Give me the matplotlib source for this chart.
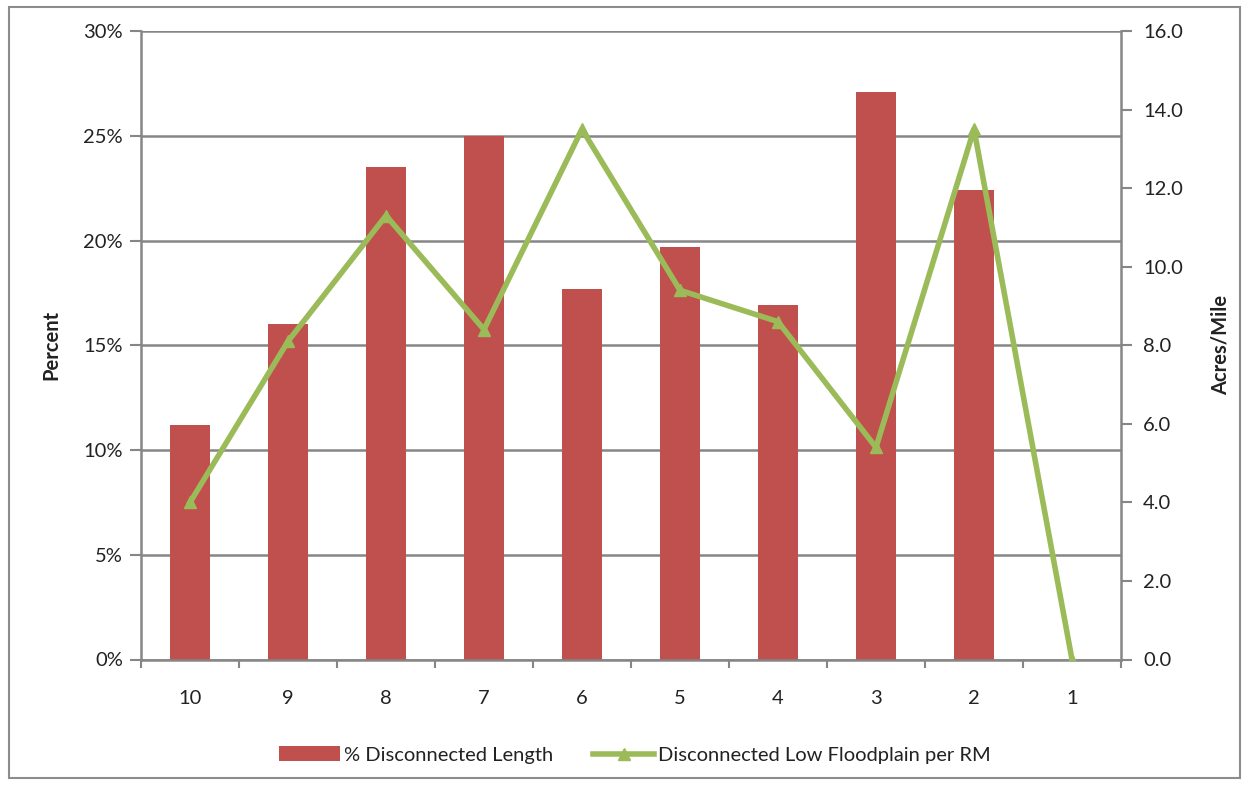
import matplotlib
matplotlib.use("Agg")
import matplotlib.pyplot as plt
from matplotlib.ticker import FuncFormatter, MultipleLocator
from matplotlib.lines import Line2D
from matplotlib.patches import Patch, Rectangle

plt.rcParams['font.family'] = ['Lato', 'DejaVu Sans']

# River mile segments, upstream to downstream
segments = ["10", "9", "8", "7", "6", "5", "4", "3", "2", "1"]
pct_disconnected = [11.2, 16.0, 23.5, 25.0, 17.7, 19.7, 16.9, 27.1, 22.4, 0.0]
acres_per_mile = [4.0, 8.1, 11.3, 8.4, 13.5, 9.4, 8.6, 5.4, 13.5, 0.0]

bar_color = "#C0504D"
line_color = "#9BBB59"
grid_color = "#868686"
text_color = "#222222"
fs = 14.5

fig = plt.figure(figsize=(12.5, 7.85), dpi=100)

# outer chart frame
fig.patches.append(Rectangle((9 / 1250, 7 / 785), 1231 / 1250, 771 / 785,
                             transform=fig.transFigure, fill=False,
                             edgecolor="#8c8c8c", linewidth=1.5))

ax = fig.add_axes([141 / 1250, 1 - 659.5 / 785, 980 / 1250, 628.5 / 785])
x = list(range(len(segments)))

ax.bar(x, pct_disconnected, width=0.4, color=bar_color, zorder=2,
       label="% Disconnected Length")
ax.set_xlim(-0.5, len(segments) - 0.5)
ax.set_ylim(0, 30)
ax.yaxis.set_major_locator(MultipleLocator(5))
ax.yaxis.set_major_formatter(FuncFormatter(lambda v, p: f"{v:.0f}%"))
ax.grid(axis="y", color=grid_color, linewidth=1.8, zorder=0)
ax.set_axisbelow(True)

ax.set_xticks(x)
ax.set_xticklabels(segments)
ax.set_xticks([i + 0.5 for i in range(-1, len(segments))], minor=True)
ax.tick_params(axis="x", which="major", length=0, pad=22, labelsize=fs,
               colors=text_color)
ax.tick_params(axis="x", which="minor", length=6, width=1.5, color=grid_color)
ax.tick_params(axis="y", length=8, width=1.5, color=grid_color, labelsize=fs,
               labelcolor=text_color, pad=5)

for s in ("top", "right"):
    ax.spines[s].set_visible(False)
for s in ("left", "bottom"):
    ax.spines[s].set_color(grid_color)
    ax.spines[s].set_linewidth(1.8)

ax.set_ylabel("Percent", fontsize=fs, fontweight="bold", color=text_color,
              labelpad=16)

ax2 = ax.twinx()
ax2.plot(x, acres_per_mile, color=line_color, linewidth=4, marker="^",
         markersize=9, zorder=3, label="Disconnected Low Floodplain per RM")
ax2.set_ylim(0, 16)
ax2.yaxis.set_major_locator(MultipleLocator(2))
ax2.yaxis.set_major_formatter(FuncFormatter(lambda v, p: f"{v:.1f}"))
ax2.tick_params(axis="y", length=8, width=1.5, color=grid_color, labelsize=fs,
                labelcolor=text_color, pad=8)
for s in ("top", "left", "bottom"):
    ax2.spines[s].set_visible(False)
ax2.spines["right"].set_color(grid_color)
ax2.spines["right"].set_linewidth(1.8)
ax2.set_ylabel("Acres/Mile", fontsize=fs, fontweight="bold", color=text_color,
               labelpad=20)

handles = [Patch(facecolor=bar_color, edgecolor="none"),
           Line2D([0], [0], color=line_color, linewidth=4, marker="^",
                  markersize=9)]
labels = ["% Disconnected Length", "Disconnected Low Floodplain per RM"]
fig.legend(handles, labels, loc="center", bbox_to_anchor=(635 / 1250, 1 - 755 / 785),
           ncol=2, frameon=False, fontsize=fs, handlelength=3.0,
           handletextpad=0.2, columnspacing=2.0, labelcolor=text_color)

fig.savefig("out.png", dpi=100, facecolor="white")
